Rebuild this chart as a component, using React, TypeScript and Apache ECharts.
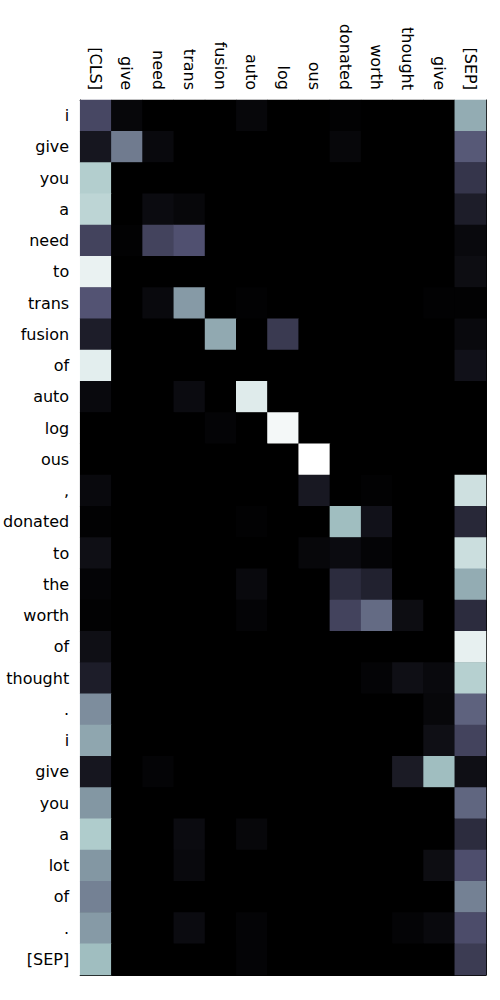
import React, { useEffect, useRef } from "react";
import * as echarts from "echarts";

const colLabels = ["[CLS]", "give", "need", "trans", "fusion", "auto", "log", "ous", "donated", "worth", "thought", "give", "[SEP]"];
const rowLabels = ["i", "give", "you", "a", "need", "to", "trans", "fusion", "of", "auto", "log", "ous", ",", "donated", "to", "the", "worth", "of", "thought", ".", "i", "give", "you", "a", "lot", "of", ".", "[SEP]"];

// attention weights, one row per row label, one value per column label
const r00 = [0.32, 0.03, 0, 0, 0, 0.03, 0, 0, 0.01, 0, 0, 0, 0.66];
const r01 = [0.1, 0.5, 0.04, 0, 0, 0, 0, 0, 0.03, 0, 0, 0, 0.39];
const r02 = [0.78, 0, 0, 0, 0, 0, 0, 0, 0, 0, 0, 0, 0.24];
const r03 = [0.81, 0, 0.05, 0.03, 0, 0, 0, 0, 0, 0, 0, 0, 0.13];
const r04 = [0.3, 0.01, 0.3, 0.36, 0, 0, 0, 0, 0, 0, 0, 0, 0.04];
const r05 = [0.94, 0, 0, 0, 0, 0, 0, 0, 0, 0, 0, 0, 0.06];
const r06 = [0.37, 0, 0.04, 0.6, 0, 0.01, 0, 0, 0, 0, 0, 0.01, 0.01];
const r07 = [0.13, 0, 0, 0, 0.65, 0, 0.26, 0, 0, 0, 0, 0, 0.04];
const r08 = [0.92, 0, 0, 0, 0, 0, 0, 0, 0, 0, 0, 0, 0.08];
const r09 = [0.04, 0, 0, 0.05, 0, 0.91, 0, 0, 0, 0, 0, 0, 0];
const r10 = [0, 0, 0, 0, 0.02, 0, 0.97, 0, 0, 0, 0, 0, 0];
const r11 = [0, 0, 0, 0, 0, 0, 0, 1.0, 0, 0, 0, 0, 0];
const r12 = [0.04, 0, 0, 0, 0, 0, 0, 0.11, 0, 0.01, 0, 0, 0.86];
const r13 = [0.01, 0, 0, 0, 0, 0.01, 0, 0, 0.72, 0.08, 0, 0, 0.18];
const r14 = [0.07, 0, 0, 0, 0, 0, 0, 0.03, 0.05, 0.02, 0, 0, 0.85];
const r15 = [0.02, 0, 0, 0, 0, 0.04, 0, 0, 0.2, 0.15, 0, 0, 0.66];
const r16 = [0.01, 0, 0, 0, 0, 0.02, 0, 0, 0.3, 0.45, 0.06, 0, 0.2];
const r17 = [0.07, 0, 0, 0, 0, 0, 0, 0, 0, 0, 0, 0, 0.93];
const r18 = [0.13, 0, 0, 0, 0, 0, 0, 0, 0, 0.02, 0.07, 0.04, 0.79];
const r19 = [0.56, 0, 0, 0, 0, 0, 0, 0, 0, 0, 0, 0.03, 0.42];
const r20 = [0.64, 0, 0, 0, 0, 0, 0, 0, 0, 0, 0, 0.07, 0.3];
const r21 = [0.1, 0, 0.02, 0, 0, 0, 0, 0, 0, 0, 0.12, 0.72, 0.07];
const r22 = [0.59, 0, 0, 0, 0, 0, 0, 0, 0, 0, 0, 0, 0.43];
const r23 = [0.77, 0, 0, 0.05, 0, 0.03, 0, 0, 0, 0, 0, 0, 0.2];
const r24 = [0.59, 0, 0, 0.04, 0, 0, 0, 0, 0, 0, 0, 0.06, 0.35];
const r25 = [0.52, 0, 0, 0, 0, 0, 0, 0, 0, 0, 0, 0, 0.52];
const r26 = [0.6, 0, 0, 0.05, 0, 0.02, 0, 0, 0, 0, 0.02, 0.04, 0.34];
const r27 = [0.72, 0, 0, 0, 0, 0.02, 0, 0, 0, 0, 0, 0, 0.27];
const matrix = [r00, r01, r02, r03, r04, r05, r06, r07, r08, r09, r10, r11, r12, r13, r14, r15, r16, r17, r18, r19, r20, r21, r22, r23, r24, r25, r26, r27];

function seg(t: number, pts: number[][]) {
  for (let i = 1; i < pts.length; i++) {
    if (t <= pts[i][0]) {
      const [x0, y0] = pts[i - 1];
      const [x1, y1] = pts[i];
      return y0 + ((t - x0) / (x1 - x0)) * (y1 - y0);
    }
  }
  return pts[pts.length - 1][1];
}
function bone(t: number) {
  const r = seg(t, [[0, 0], [0.746032, 0.652778], [1, 1]]);
  const g = seg(t, [[0, 0], [0.365079, 0.319444], [0.746032, 0.777778], [1, 1]]);
  const b = seg(t, [[0, 0], [0.365079, 0.444444], [1, 1]]);
  const h = (v: number) => Math.round(v * 255).toString(16).padStart(2, "0");
  return "#" + h(r) + h(g) + h(b);
}
const boneStops: string[] = [];
for (let i = 0; i <= 64; i++) boneStops.push(bone(i / 64));

export default function App() {
  const ref = useRef<HTMLDivElement>(null);
  useEffect(() => {
    if (!ref.current) return;
    const chart = echarts.init(ref.current, undefined, { renderer: "svg" });
    const data: number[][] = [];
    matrix.forEach((row, yi) => row.forEach((v, xi) => data.push([xi, yi, v])));
    const font = { fontFamily: "DejaVu Sans", fontSize: 16, color: "#000" };
    const tick = { alignWithLabel: true, length: 5, lineStyle: { color: "#000", width: 1 } };
    chart.setOption({
      animation: false,
      backgroundColor: "#fff",
      grid: { left: 78, top: 100, width: 408, height: 875, show: true, backgroundColor: "#000", borderWidth: 0 },
      visualMap: { show: false, min: 0, max: 1, dimension: 2, inRange: { color: boneStops } },
      xAxis: [
        {
          type: "category",
          data: colLabels,
          position: "top",
          axisLine: { lineStyle: { color: "#000", width: 1 } },
          axisTick: tick,
          axisLabel: { ...font, rotate: 90, interval: 0, margin: 10 },
          splitLine: { show: false },
        },
        {
          type: "category",
          data: colLabels,
          position: "bottom",
          axisLine: { lineStyle: { color: "#000", width: 1 } },
          axisTick: tick,
          axisLabel: { show: false },
          splitLine: { show: false },
        },
      ],
      yAxis: [
        {
          type: "category",
          data: rowLabels,
          inverse: true,
          position: "left",
          axisLine: { lineStyle: { color: "#000", width: 1 } },
          axisTick: tick,
          axisLabel: { ...font, interval: 0, margin: 11 },
          splitLine: { show: false },
        },
        {
          type: "category",
          data: rowLabels,
          inverse: true,
          position: "right",
          axisLine: { lineStyle: { color: "#000", width: 1 } },
          axisTick: { show: false },
          axisLabel: { show: false },
          splitLine: { show: false },
        },
      ],
      series: [
        {
          type: "heatmap",
          xAxisIndex: 0,
          yAxisIndex: 0,
          data,
          itemStyle: { borderWidth: 0 },
          emphasis: { disabled: true },
        },
      ],
    });
    return () => chart.dispose();
  }, []);
  return <div ref={ref} style={{ position: "absolute", left: 0, top: 0, width: 500, height: 1000 }} />;
}
